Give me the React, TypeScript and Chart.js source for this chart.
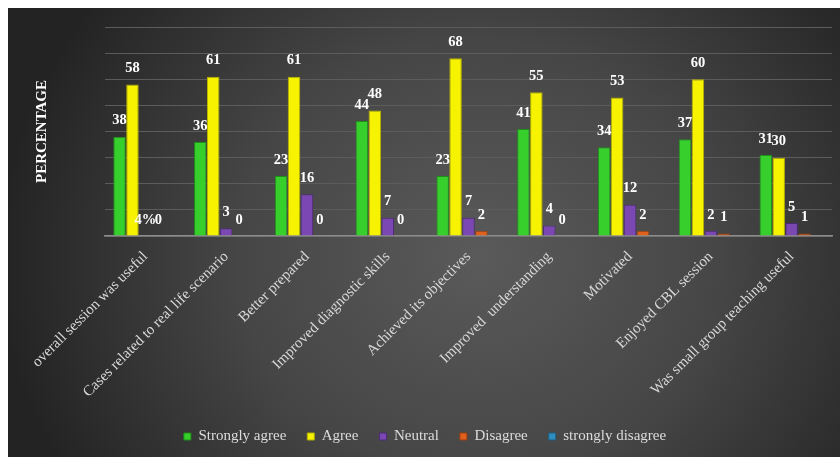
import React, { useEffect, useRef } from "react";
import { Chart, registerables } from "chart.js";

Chart.register(...registerables);

const categories = [
  "overall session was useful",
  "Cases related to real life scenario",
  "Better prepared",
  "Improved diagnostic skills",
  "Achieved its objectives",
  "Improved  understanding",
  "Motivated",
  "Enjoyed CBL session",
  "Was small group teaching useful",
];

const seriesNames = ["Strongly agree", "Agree", "Neutral", "Disagree", "strongly disagree"];

const stronglyAgree = [38, 36, 23, 44, 23, 41, 34, 37, 31];
const agree = [58, 61, 61, 48, 68, 55, 53, 60, 30];
const neutral = [0, 3, 16, 7, 7, 4, 12, 2, 5];
const disagree = [0, 0, 0, 0, 2, 0, 2, 1, 1];
const stronglyDisagree = [0, 0, 0, 0, 0, 0, 0, 0, 0];

const stronglyAgreeLabels = ["38", "36", "23", "44", "23", "41", "34", "37", "31"];
const agreeLabels = ["58", "61", "61", "48", "68", "55", "53", "60", "30"];
const neutralLabels = ["4%", "3", "16", "7", "7", "4", "12", "2", "5"];
const disagreeLabels = ["0", "0", "0", "0", "2", "0", "2", "1", "1"];
const stronglyDisagreeLabels: (string | null)[] = [null, null, null, null, null, null, null, null, null];

const yTicks = [0, 10, 20, 30, 40, 50, 60, 70, 80];

const colors = ["#36cf2c", "#f7f300", "#7b48b3", "#e0601c", "#2f8ec0"];
const borders = ["#1f8f1a", "#b5b000", "#4e2a7a", "#9a3f10", "#1d5f80"];

const allValues = [stronglyAgree, agree, neutral, disagree, stronglyDisagree];
const allLabels = [stronglyAgreeLabels, agreeLabels, neutralLabels, disagreeLabels, stronglyDisagreeLabels];

const SERIF = "'Liberation Serif', 'Times New Roman', serif";

const bgPlugin = {
  id: "bgGrad",
  beforeDraw(chart: any) {
    const { ctx, width, height } = chart;
    ctx.save();
    const cx = 470;
    const cy = 250;
    ctx.translate(cx, cy);
    ctx.scale(1, 0.9);
    const g = ctx.createRadialGradient(0, 0, 0, 0, 0, 480);
    g.addColorStop(0, "#5a5a5a");
    g.addColorStop(0.5, "#464646");
    g.addColorStop(1, "#232323");
    ctx.fillStyle = g;
    ctx.fillRect(-cx - 10, -cy / 0.9 - 10, width + 20, height / 0.9 + 40);
    ctx.restore();
  },
};

const labelPlugin = {
  id: "barLabels",
  afterDatasetsDraw(chart: any) {
    const { ctx } = chart;
    ctx.save();
    ctx.font = `bold 14.5px ${SERIF}`;
    ctx.fillStyle = "#ffffff";
    ctx.textAlign = "center";
    ctx.textBaseline = "middle";
    chart.data.datasets.forEach((ds: any, i: number) => {
      const meta = chart.getDatasetMeta(i);
      const texts = allLabels[i];
      meta.data.forEach((bar: any, j: number) => {
        const t = texts[j];
        if (t == null) return;
        ctx.fillText(t, bar.x, bar.y - 16);
      });
    });
    ctx.restore();
  },
};

export default function App() {
  const ref = useRef<HTMLCanvasElement | null>(null);
  useEffect(() => {
    if (!ref.current) return;
    const chart = new Chart(ref.current, {
      type: "bar",
      data: {
        labels: categories,
        datasets: seriesNames.map((name, i) => ({
          label: name,
          data: allValues[i],
          backgroundColor: colors[i],
          borderColor: borders[i],
          borderWidth: 1,
          categoryPercentage: 0.8,
          barPercentage: 0.97,
        })),
      },
      options: {
        animation: false,
        responsive: false,
        devicePixelRatio: 1,
        layout: { padding: { left: 10, top: 19, right: 8, bottom: 3 } },
        plugins: {
          tooltip: { enabled: false },
          legend: {
            position: "bottom",
            labels: {
              color: "#dcdcdc",
              font: { family: SERIF, size: 15 },
              boxWidth: 7,
              boxHeight: 7,
              padding: 21,
            },
          },
        },
        scales: {
          x: {
            grid: { display: false, drawTicks: false },
            border: { color: "#8c8c8c", width: 1.5 },
            ticks: {
              color: "#d8d8d8",
              font: { family: SERIF, size: 15 },
              maxRotation: 45,
              minRotation: 45,
              padding: 12,
              autoSkip: false,
            },
            afterFit(scale: any) {
              scale.height = 172;
            },
          },
          y: {
            min: 0,
            max: 80,
            afterBuildTicks(scale: any) {
              scale.ticks = yTicks.map((v) => ({ value: v }));
            },
            grid: { color: "#5c5c5c", lineWidth: 1, drawTicks: false },
            border: { display: false },
            ticks: { display: false },
            title: {
              display: true,
              text: "PERCENTAGE",
              color: "#ffffff",
              font: { family: SERIF, size: 15, weight: "bold" },
              padding: { top: 15, bottom: 54 },
            },
          },
        },
      },
      plugins: [bgPlugin, labelPlugin],
    });
    return () => chart.destroy();
  }, []);
  return (
    <div style={{ position: "absolute", left: 8, top: 8, width: 832, height: 449 }}>
      <canvas ref={ref} width={832} height={449} style={{ width: 832, height: 449 }} />
    </div>
  );
}
